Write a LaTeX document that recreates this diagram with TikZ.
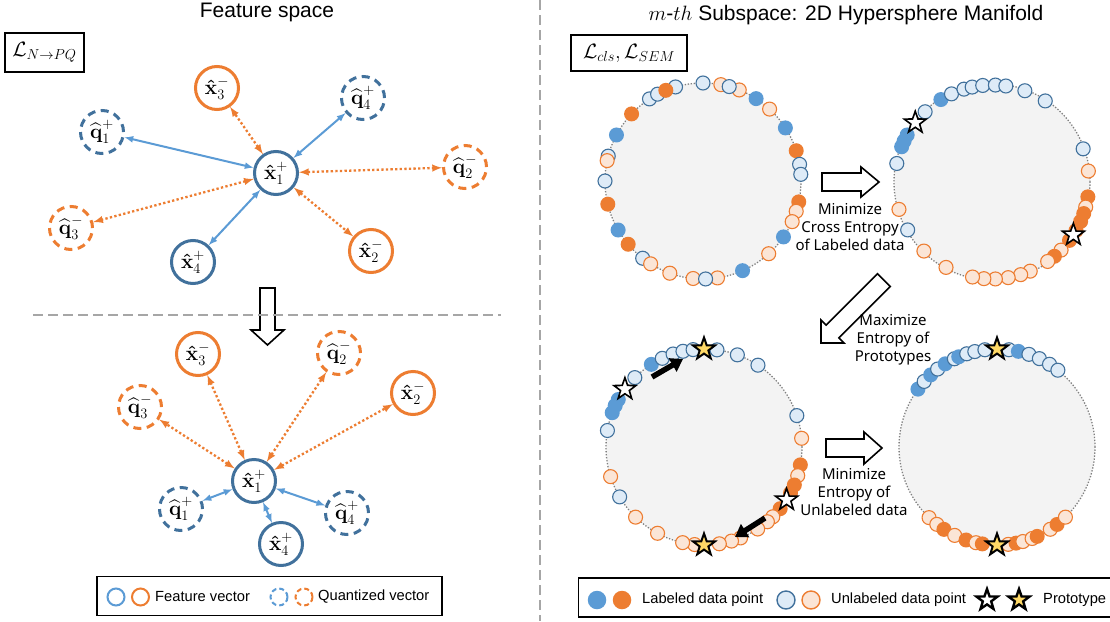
\documentclass[tikz,border=0pt]{standalone}
\usepackage{amsmath}
\usepackage{amsfonts}
\usepackage{fontspec}
\setmainfont{Liberation Sans}
\newfontfamily\notefont{Noto Sans}
\usepackage{tikz}
\usetikzlibrary{calc,positioning,arrows,arrows.meta,shapes.geometric}

\definecolor{nblue}{HTML}{41719C}
\definecolor{lblue}{HTML}{5B9BD5}
\definecolor{norange}{HTML}{ED7D31}
\definecolor{pblue}{HTML}{DEEBF7}
\definecolor{porange}{HTML}{FBE5D6}
\definecolor{diskgray}{HTML}{F3F3F3}
\definecolor{pgold}{HTML}{FFD966}
\definecolor{sepgray}{HTML}{A6A6A6}

\begin{document}
\begin{tikzpicture}[x=1pt,y=-1pt,
  feat/.style={circle,draw,line width=3pt,minimum size=43pt,inner sep=0pt,fill=white,font=\fontsize{20}{22}\selectfont},
  quant/.style={feat,dash pattern=on 8pt off 5.5pt},
  fblue/.style={draw=nblue},
  forange/.style={draw=norange},
  posl/.style={<->,>=latex,draw=lblue,line width=2pt},
  negl/.style={<->,>=latex,draw=norange,line width=2.3pt,dash pattern=on 2.3pt off 2.3pt},
  sepl/.style={draw=sepgray,line width=2pt,dash pattern=on 10pt off 5pt},
  lossbox/.style={draw,line width=1.3pt,font=\fontsize{20}{24}\selectfont},
  bigarr/.style={draw,fill=white,line width=1.6pt,line join=miter},
  disk/.style={fill=diskgray,draw=gray,line width=1.3pt,dash pattern=on 1.3pt off 1.7pt},
  lb/.style={circle,fill=lblue,minimum size=15pt,inner sep=0pt},
  lo/.style={circle,fill=norange,minimum size=15pt,inner sep=0pt},
  ub/.style={circle,draw=nblue,fill=pblue,line width=1.1pt,minimum size=14pt,inner sep=0pt},
  uo/.style={circle,draw=norange,fill=porange,line width=1.1pt,minimum size=14pt,inner sep=0pt},
  pw/.style={star,star points=5,star point ratio=2.5,draw,fill=white,line width=1.6pt,minimum size=23pt,inner sep=0pt},
  py/.style={pw,fill=pgold,line width=2pt},
  pull/.style={-{Triangle[length=12pt,width=15pt]},line width=5.5pt},
  note/.style={font=\notefont\fontsize{15}{18}\selectfont,align=center},
  lgtext/.style={anchor=west,font=\fontsize{14.7}{17}\selectfont,inner sep=0pt}]

  \fill[white] (0,0) rectangle (1110,621);
  \useasboundingbox (0,0) rectangle (1110,621);

  % left half: feature space
  \node[font=\fontsize{21}{24}\selectfont] (ttl) at (267,12) {Feature space};
  \node[lossbox,minimum width=79pt,minimum height=39pt] (lnpq) at (44.5,52.5) {$\mathcal{L}_{N\rightarrow PQ}$};

  \node[feat,fblue] (x1) at (276,173) {$\boldsymbol{\hat{\mathbf{x}}}_1^{+}$};
  \node[feat,forange] (x3) at (217,88) {$\boldsymbol{\hat{\mathbf{x}}}_3^{-}$};
  \node[quant,fblue] (q4) at (363,98) {$\boldsymbol{\widehat{\mathbf{q}}}_4^{+}$};
  \node[quant,fblue] (q1) at (102,132) {$\boldsymbol{\widehat{\mathbf{q}}}_1^{+}$};
  \node[quant,forange] (q2) at (465,167) {$\boldsymbol{\widehat{\mathbf{q}}}_2^{-}$};
  \node[quant,forange] (q3) at (71,228) {$\boldsymbol{\widehat{\mathbf{q}}}_3^{-}$};
  \node[feat,fblue] (x4) at (193,262) {$\boldsymbol{\hat{\mathbf{x}}}_4^{+}$};
  \node[feat,forange] (x2) at (371,251) {$\boldsymbol{\hat{\mathbf{x}}}_2^{-}$};
  \draw[posl] (x1) -- (q1);
  \draw[posl] (x1) -- (q4);
  \draw[posl] (x1) -- (x4);
  \draw[negl] (x1) -- (x3);
  \draw[negl] (x1) -- (q2);
  \draw[negl] (x1) -- (q3);
  \draw[negl] (x1) -- (x2);

  \draw[bigarr] (260,288) -- (275,288) -- (275,330) -- (284,330) -- (267.5,345) -- (251,330) -- (260,330) -- cycle;
  \draw[sepl] (33,315) -- (501,315);

  \node[feat,forange] (bx3) at (198,354) {$\boldsymbol{\hat{\mathbf{x}}}_3^{-}$};
  \node[quant,forange] (bq2) at (339,353) {$\boldsymbol{\widehat{\mathbf{q}}}_2^{-}$};
  \node[quant,forange] (bq3) at (140,407) {$\boldsymbol{\widehat{\mathbf{q}}}_3^{-}$};
  \node[feat,forange] (bx2) at (413,393) {$\boldsymbol{\hat{\mathbf{x}}}_2^{-}$};
  \node[feat,fblue] (bx1) at (254,481) {$\boldsymbol{\hat{\mathbf{x}}}_1^{+}$};
  \node[quant,fblue] (bq1) at (181,509) {$\boldsymbol{\widehat{\mathbf{q}}}_1^{+}$};
  \node[quant,fblue] (bq4) at (347,513) {$\boldsymbol{\widehat{\mathbf{q}}}_4^{+}$};
  \node[feat,fblue] (bx4) at (281,544) {$\boldsymbol{\hat{\mathbf{x}}}_4^{+}$};
  \draw[negl] (bx1) -- (bx3);
  \draw[negl] (bx1) -- (bq2);
  \draw[negl] (bx1) -- (bq3);
  \draw[negl] (bx1) -- (bx2);
  \draw[posl] (bx1) -- (bq1);
  \draw[posl] (bx1) -- (bq4);
  \draw[posl] (bx1) -- (bx4);

  \node[draw,line width=1.2pt,minimum width=345pt,minimum height=39pt] (lgl) at (269.5,596) {};
  \node[circle,draw=lblue,line width=2pt,minimum size=17pt] (lgfb) at (116,597) {};
  \node[circle,draw=norange,line width=2pt,minimum size=17pt] (lgfo) at (140.5,597) {};
  \node[lgtext] (lgft) at (155,597) {Feature vector};
  \node[circle,draw=lblue,line width=2pt,minimum size=17pt,dash pattern=on 5pt off 3pt] (lgqb) at (279,597) {};
  \node[circle,draw=norange,line width=2pt,minimum size=17pt,dash pattern=on 5pt off 3pt] (lgqo) at (304,597) {};
  \node[lgtext] (lgqt) at (318,597) {Quantized vector};

  \draw[sepl] (540,0) -- (540,621);

  % right half: hypersphere
  \node[font=\fontsize{21}{24}\selectfont] (ttr) at (846,15) {$m$-$th$ Subspace: 2D Hypersphere Manifold};
  \node[lossbox,minimum width=116pt,minimum height=36pt] (lcls) at (629,53) {$\mathcal{L}_{cls},\mathcal{L}_{SEM}$};

  \coordinate (c1) at (703,181);
  \coordinate (c2) at (992,182);
  \coordinate (c3) at (704,447);
  \coordinate (c4) at (997,447);
  \foreach \c in {c1,c2,c3,c4}
    \draw[disk] (\c) circle (98pt);

  \foreach \a/\s [count=\i] in {123.1/ub,117.6/ub,106.3/ub,112.3/lo,90/ub,79.5/uo,68.3/uo,74.5/ub,57.2/lb,47.2/uo,
      32.8/lb,18/lo,9.8/ub,3.9/ub,-12.3/lo,-18/uo,-24.5/uo,-34.8/lb,-47.9/uo,-66.2/lb,-81.5/uo,-95.8/uo,-88.5/ub,
      -109.8/uo,-128/ub,-122.3/uo,-139.8/lo,-150/lb,-166.3/lo,180/ub,165.3/ub,168/uo,152/lb,136.8/lo}
    \node[\s] (pa\i) at ([shift={(\a:98pt)}]c1) {};

  \foreach \a/\s [count=\i] in {169/ub,158.7/lb,155/lb,151/lb,133.6/ub,121.8/lb,114.7/ub,106.8/ub,101.8/ub,95.5/ub,
      88/ub,81.8/ub,70.2/ub,56.7/ub,20/ub,6.5/uo,-8.8/lo,-15/uo,-19/lo,-24/lo,-30/lo,-37/lo,-44.6/uo,-50/lo,-55/uo,
      -66.8/uo,-72.8/uo,-80.4/uo,-88/uo,-94.8/uo,-101.6/uo,-118.3/uo,-134.6/uo,-150.4/ub,-163.6/uo}
    \node[\s] (pb\i) at ([shift={(\a:97pt)}]c2) {};
  \node[pw] (sb1) at ([shift={(142.3:97pt)}]c2) {};
  \node[pw] (sb2) at ([shift={(-33:97pt)}]c2) {};

  \foreach \a/\s [count=\i] in {122.5/lb,115.2/ub,108.4/ub,102.4/ub,96.4/ub,82.4/ub,70.1/ub,56.6/ub,18.7/ub,5.1/uo,
      -10.5/lo,-17/uo,-22.8/lo,-28/lo,-39/lo,-45.4/uo,-49.7/uo,-56.8/uo,-68.1/uo,-73.7/uo,-81/uo,-95.5/uo,-102.6/uo,
      -118.3/uo,-134.3/uo,-149.4/ub,-162.4/uo,170.3/ub,159.5/lb,155/lb,151/lb,134.9/ub}
    \node[\s] (pc\i) at ([shift={(\a:98pt)}]c3) {};
  \node[py] (sc1) at ([shift={(90:98pt)}]c3) {};
  \node[py] (sc2) at ([shift={(-90:98pt)}]c3) {};
  \node[pw] (sc3) at ([shift={(143.8:98pt)}]c3) {};
  \node[pw] (sc4) at ([shift={(-32.6:98pt)}]c3) {};
  \coordinate (m1s) at (652,377);
  \coordinate (m1e) at (683,359);
  \coordinate (m2s) at (765,518);
  \coordinate (m2e) at (735,537);
  \draw[pull] (m1s) -- (m1e);
  \draw[pull] (m2s) -- (m2e);

  \foreach \a/\s [count=\i] in {143.8/lb,138/ub,132.6/lb,127.3/ub,121.9/lb,115.8/ub,113/lb,108/ub,103.1/ub,97.1/ub,
      83/ub,77.4/lb,71/ub,64.4/ub,57.6/ub,51.6/ub,-133.9/uo,-127.9/uo,-122.8/lo,-115.6/uo,-108.4/lo,-102.4/uo,
      -98.6/lo,-83.4/uo,-78.8/lo,-74.7/uo,-69/uo,-65.8/lo,-57.1/uo,-52.2/lo,-45.7/uo}
    \node[\s] (pd\i) at ([shift={(\a:98pt)}]c4) {};
  \node[py] (sd1) at ([shift={(90:98pt)}]c4) {};
  \node[py] (sd2) at ([shift={(-90:98pt)}]c4) {};

  % block arrows between the spheres
  \draw[bigarr] (822,173) -- (861,173) -- (861,167) -- (879,182) -- (861,197) -- (861,191) -- (822,191) -- cycle;
  \draw[bigarr] (821,343) -- (821,320) -- (826.1,325.1) -- (877.5,273.7) -- (890.3,286.5) -- (838.9,337.9) -- (844,343) -- cycle;
  \draw[bigarr] (826,439) -- (864,439) -- (864,432) -- (882,448) -- (864,464) -- (864,457) -- (826,457) -- cycle;
  \node[note] (n1) at (850,227) {Minimize\\Cross Entropy\\of Labeled data};
  \node[note] (n2) at (893,340) {Maximize\\Entropy of\\Prototypes};
  \node[note] (n3) at (854,492) {Minimize\\Entropy of\\Unlabeled data};

  \node[draw,line width=1.2pt,minimum width=545pt,minimum height=39pt,anchor=west] (lgr) at (578,597.5) {};
  \node[lb,minimum size=18.5pt] (lglb) at (597,600) {};
  \node[lo,minimum size=18.5pt] (lglo) at (622,600) {};
  \node[lgtext] (lglt) at (642,600) {Labeled data point};
  \node[ub,minimum size=18pt,line width=1.4pt] (lgub) at (786,600) {};
  \node[uo,minimum size=18pt,line width=1.4pt] (lguo) at (811,600) {};
  \node[lgtext] (lgut) at (831,600) {Unlabeled data point};
  \node[pw,minimum size=22pt,line width=2.4pt] (lgpw) at (987,600) {};
  \node[py,minimum size=22pt,line width=2.4pt] (lgpy) at (1019,600) {};
  \node[lgtext] (lgpt) at (1043,600) {Prototype};
\end{tikzpicture}
\end{document}
